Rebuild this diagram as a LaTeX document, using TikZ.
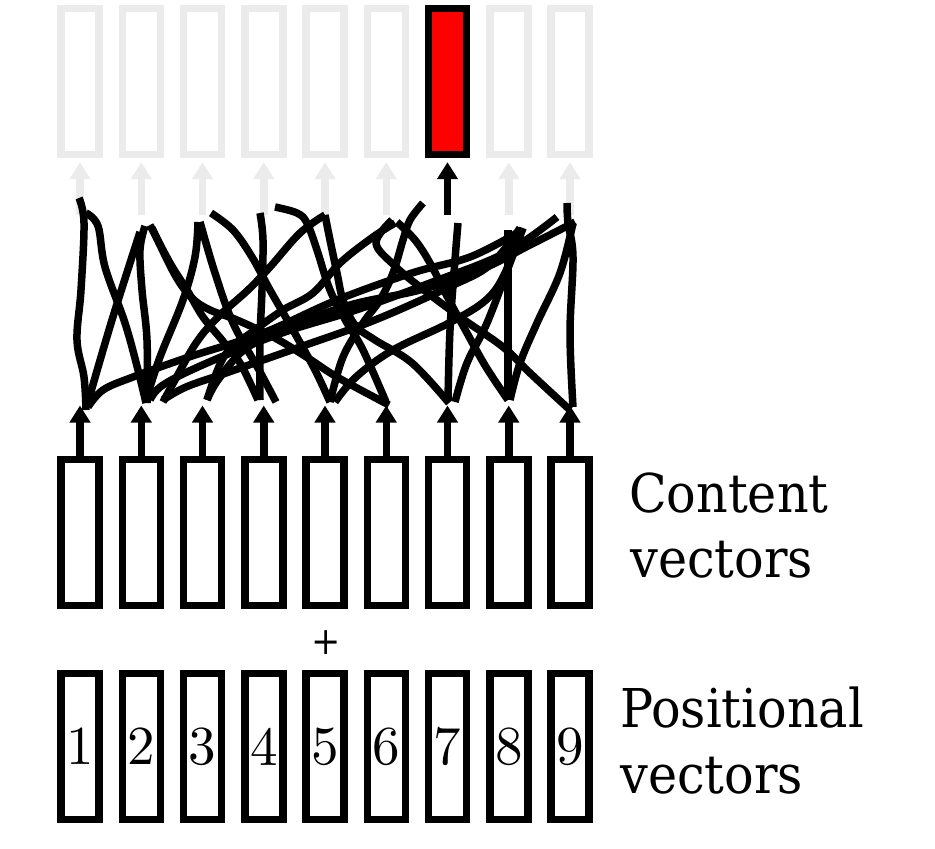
\documentclass[tikz,border=0pt]{standalone}
\usepackage{fontspec}
\newfontfamily\lblfont[FakeStretch=0.92]{DejaVu Serif}
\newfontfamily\digitfont{lmroman10-regular.otf}
\usetikzlibrary{arrows.meta}
\definecolor{boxgray}{HTML}{EBEBEB}
\definecolor{boxred}{HTML}{FF0000}
\begin{document}
\begin{tikzpicture}[x=1pt,y=-1pt,
  vec/.style={draw, line width=7.5pt, minimum width=38pt, minimum height=146pt, inner sep=0pt},
  ghost/.style={vec, draw=boxgray},
  hot/.style={vec, draw=black, fill=boxred},
  uparr/.style={line width=7.5pt, -{Triangle[length=17pt,width=20pt]}},
  tangle/.style={line width=7.5pt, line join=round},
  lbl/.style={font=\lblfont\fontsize{53.5}{65}\selectfont, anchor=base west, inner sep=0pt},
  digit/.style={font=\digitfont\fontsize{55}{55}\selectfont, inner sep=0pt},
  plus/.style={font=\lblfont\fontsize{38}{38}\selectfont, inner sep=0pt}]
\useasboundingbox (0,0) rectangle (935,849);

% top output boxes and arrows
\foreach \i in {1,...,9}{
  \pgfmathsetmacro\cx{80+61.25*(\i-1)}
  \ifnum\i=7
    \node[hot] (t\i) at (\cx,81.4) {};
    \coordinate (s\i) at (\cx,215);
    \draw[uparr, shorten >=4pt] (s\i) -- (t\i.south);
  \else
    \node[ghost] (t\i) at (\cx,81.4) {};
    \coordinate (s\i) at (\cx,215);
    \draw[uparr, draw=boxgray, shorten >=4pt] (s\i) -- (t\i.south);
  \fi
}

% tangle of attention lines
\begin{scope}[tangle]
\draw plot[smooth, tension=0.6] coordinates {(79,198) (84,223) (81,290) (77,340) (84,377) (86,410)};
\draw plot[smooth, tension=0.6] coordinates {(86,213) (98,226) (105,267) (125,323) (138,370) (146,403)};
\draw plot[smooth, tension=0.6] coordinates {(88,402) (112,320) (140,232)};
\draw plot[smooth, tension=0.6] coordinates {(145,226) (140,250) (142,290) (147,340) (147,403)};
\draw plot[smooth, tension=0.6] coordinates {(150,225) (170,263) (187,290) (203,317) (222,340) (240,363) (258,400)};
\draw plot[smooth, tension=0.6] coordinates {(152,228) (175,275) (192,298) (210,310) (237,320) (275,338) (308,358) (337,377) (389,405)};
\draw plot[smooth, tension=0.6] coordinates {(198,222) (195,257) (183,300) (160,357) (147,397)};
\draw plot[smooth, tension=0.6] coordinates {(200,222) (215,273) (233,323) (259,370) (276,402)};
\draw plot[smooth, tension=0.6] coordinates {(211,213) (233,230) (252,257) (270,290) (293,330) (315,370) (330,402)};
\draw plot[smooth, tension=0.6] coordinates {(260,213) (263,240) (262,290) (260,340) (260,400)};
\draw plot[smooth, tension=0.6] coordinates {(275,207) (297,213) (307,223) (317,250) (330,290) (347,323) (363,350) (386,402)};
\draw plot[smooth, tension=0.6] coordinates {(325,215) (300,233) (270,267) (248,290) (218,317) (196,343) (175,380) (163,402)};
\draw plot[smooth, tension=0.6] coordinates {(325,215) (330,240) (337,273) (343,300) (355,325) (375,340) (412,363) (449,403)};
\draw plot[smooth, tension=0.6] coordinates {(423,203) (410,220) (403,240) (393,273) (380,300) (363,323) (343,357) (330,402)};
\draw plot[smooth, tension=0.6] coordinates {(397,222) (415,240) (430,263) (449,300) (467,333) (486,367) (508,400)};
\draw plot[smooth, tension=0.6] coordinates {(392,220) (376,243) (395,266) (420,287) (460,317) (503,347) (530,373) (570,410)};
\draw plot[smooth, tension=0.6] coordinates {(395,223) (373,237) (340,263) (313,293) (283,310) (255,330) (225,355) (207,400)};
\draw plot[smooth, tension=0.6] coordinates {(88,407) (103,390) (133,377) (189,357) (263,333) (337,300) (412,273) (470,257) (517,233)};
\draw plot[smooth, tension=0.6] coordinates {(150,400) (163,385) (207,363) (282,333) (356,310) (430,283) (505,253) (557,217)};
\draw plot[smooth, tension=0.6] coordinates {(163,400) (186,387) (226,373) (300,347) (375,320) (449,287) (490,265) (520,228)};
\draw plot[smooth, tension=0.6] coordinates {(207,400) (218,380) (244,350) (282,330) (350,305) (420,290) (480,270) (530,245) (575,222)};
\draw plot[smooth, tension=0.6] coordinates {(335,402) (356,377) (393,350) (449,323) (486,300) (505,273) (520,230)};
\draw plot[smooth, tension=0.6] coordinates {(458,223) (455,260) (450,330) (448,400)};
\draw plot[smooth, tension=0.6] coordinates {(523,228) (510,263) (487,323) (467,363) (455,402)};
\draw plot[smooth, tension=0.6] coordinates {(508,230) (508,300) (508,400)};
\draw plot[smooth, tension=0.6] coordinates {(567,203) (568,223) (573,257) (570,333) (573,407)};
\draw plot[smooth, tension=0.6] coordinates {(573,223) (560,273) (537,323) (520,363) (510,400)};
\end{scope}

% content and positional vectors
\foreach \i in {1,...,9}{
  \pgfmathsetmacro\cx{80+61.25*(\i-1)}
  \node[vec] (c\i) at (\cx,532.5) {};
  \node[vec] (p\i) at (\cx,746.5) {};
  \node[digit] (d\i) at (p\i) {\i};
  \coordinate (b\i) at (\cx,405.5);
  \draw[uparr] (c\i.north) -- (b\i);
}

\node[plus] (plus) at (326,643) {+};

\node[lbl] (ct1) at (629,512) {Content};
\node[lbl] (ct2) at (630,577) {vectors};
\node[lbl] (pt1) at (620,727) {Positional};
\node[lbl] (pt2) at (620,793) {vectors};
\end{tikzpicture}
\end{document}
